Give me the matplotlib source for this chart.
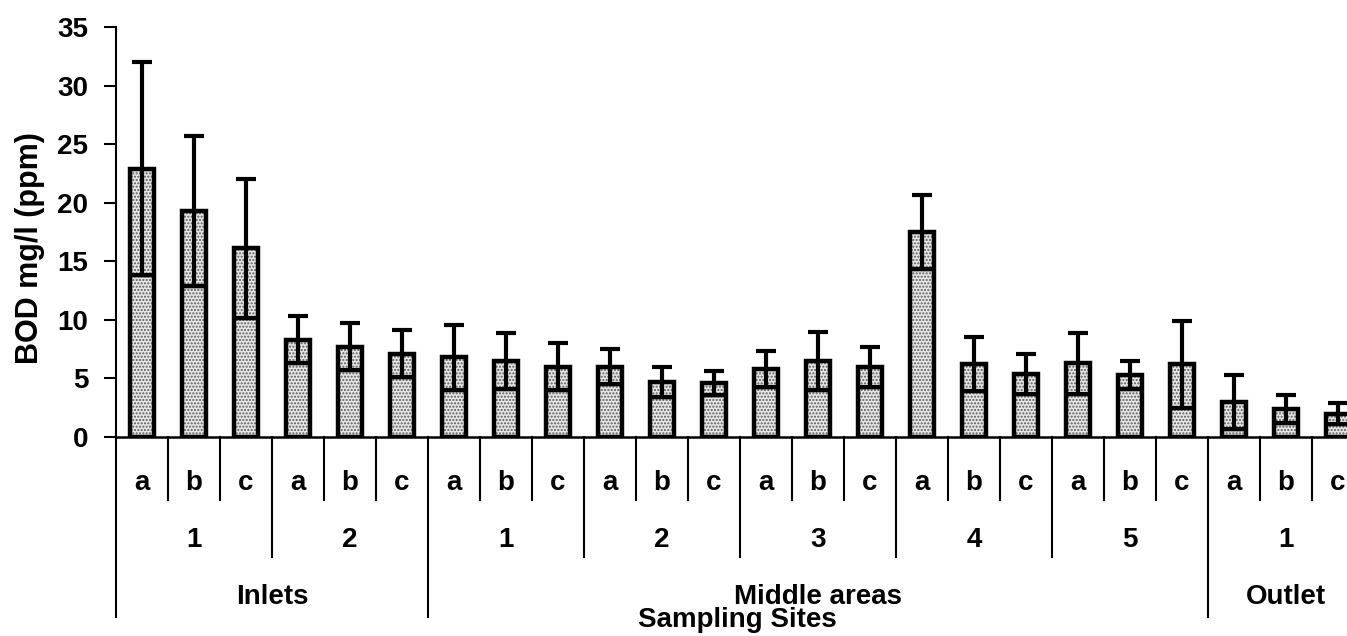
import numpy as np
import matplotlib
matplotlib.use("Agg")
import matplotlib.pyplot as plt
import matplotlib.transforms as mtransforms

plt.rcParams['font.family'] = ['Liberation Sans', 'DejaVu Sans']
plt.rcParams['font.weight'] = 'bold'
plt.rcParams['hatch.linewidth'] = 1.0

# BOD means and standard deviations, one per sampling point
sub_labels = ['a', 'b', 'c'] * 8
site_labels = ['1', '2', '1', '2', '3', '4', '5', '1']
area_labels = ['Inlets', 'Middle areas', 'Outlet']
area_sizes = [2, 5, 1]  # number of sites in each area

bod_mean = [22.9, 19.3, 16.1, 8.3, 7.7, 7.1,
            6.8, 6.5, 6.0, 6.0, 4.7, 4.6, 5.8, 6.5, 6.0,
            17.5, 6.2, 5.4, 6.3, 5.3, 6.2,
            3.0, 2.4, 2.0]
bod_sd = [9.1, 6.4, 5.9, 2.0, 2.0, 2.0,
          2.8, 2.4, 2.0, 1.5, 1.3, 1.0, 1.5, 2.5, 1.7,
          3.2, 2.3, 1.7, 2.6, 1.2, 3.7,
          2.3, 1.2, 0.9]

mean = np.array(bod_mean)
sd = np.array(bod_sd)
x = np.arange(len(mean))
width = 0.45

fig = plt.figure(figsize=(13.47, 6.36), dpi=100)
ax = fig.add_axes([116 / 1347, 199 / 636, 1248 / 1347, 410 / 636])

# stippled fill, then black outline on top
ax.bar(x, mean, width=width, color='#e6e6e6', edgecolor='#5a5a5a',
       hatch='.....', linewidth=0, zorder=2)
ax.bar(x, mean, width=width, fill=False, edgecolor='black',
       linewidth=3.2, zorder=3)

# error bars: symmetric, lower half runs inside the bar
ax.errorbar(x, mean, yerr=sd, fmt='none', ecolor='black', elinewidth=3,
            capsize=7.5, capthick=3, zorder=4)
ax.hlines(mean - sd, x - width / 2, x + width / 2, color='black',
          linewidth=2.5, zorder=4)

ax.set_xlim(-0.5, len(mean) - 0.5)
ax.set_ylim(0, 35)
ax.set_yticks(np.arange(0, 36, 5))
ax.set_xticks([])
ax.tick_params(axis='y', labelsize=20, length=9, width=1.5, pad=11)
for lbl in ax.get_yticklabels():
    lbl.set_fontweight('bold')

for side in ['top', 'right']:
    ax.spines[side].set_visible(False)
ax.spines['left'].set_linewidth(1.5)
ax.spines['bottom'].set_linewidth(1.8)

ax.set_ylabel('BOD mg/l (ppm)', fontsize=22, fontweight='bold')
ax.yaxis.set_label_coords(-0.057, 0.46)

# category table under the axis
trans = mtransforms.blended_transform_factory(ax.transData, ax.transAxes)
row1, row2, row3 = -0.154, -0.293, -0.44
lkw = dict(color='black', linewidth=1.5, transform=trans, clip_on=False)
tkw = dict(transform=trans, ha='center', va='center', fontsize=20,
           fontweight='bold')

for i, s in enumerate(sub_labels):
    ax.text(x[i], -0.112, s, **tkw)

area_edges = np.cumsum([0] + area_sizes) * 3
for b in range(len(mean) + 1):
    edge = b - 0.5
    if b in area_edges:
        depth = row3
    elif b % 3 == 0:
        depth = row2
    else:
        depth = row1
    ax.plot([edge, edge], [0, depth], **lkw)

for g, s in enumerate(site_labels):
    ax.text(g * 3 + 1, -0.251, s, **tkw)

for a, s in enumerate(area_labels):
    centre = (area_edges[a] + area_edges[a + 1] - 1) / 2
    ax.text(centre, -0.39, s, **tkw)

fig.text(737 / 1347, 1 - 620 / 636, 'Sampling Sites', ha='center',
         va='center', fontsize=20, fontweight='bold')

fig.savefig('out.png', dpi=100)
